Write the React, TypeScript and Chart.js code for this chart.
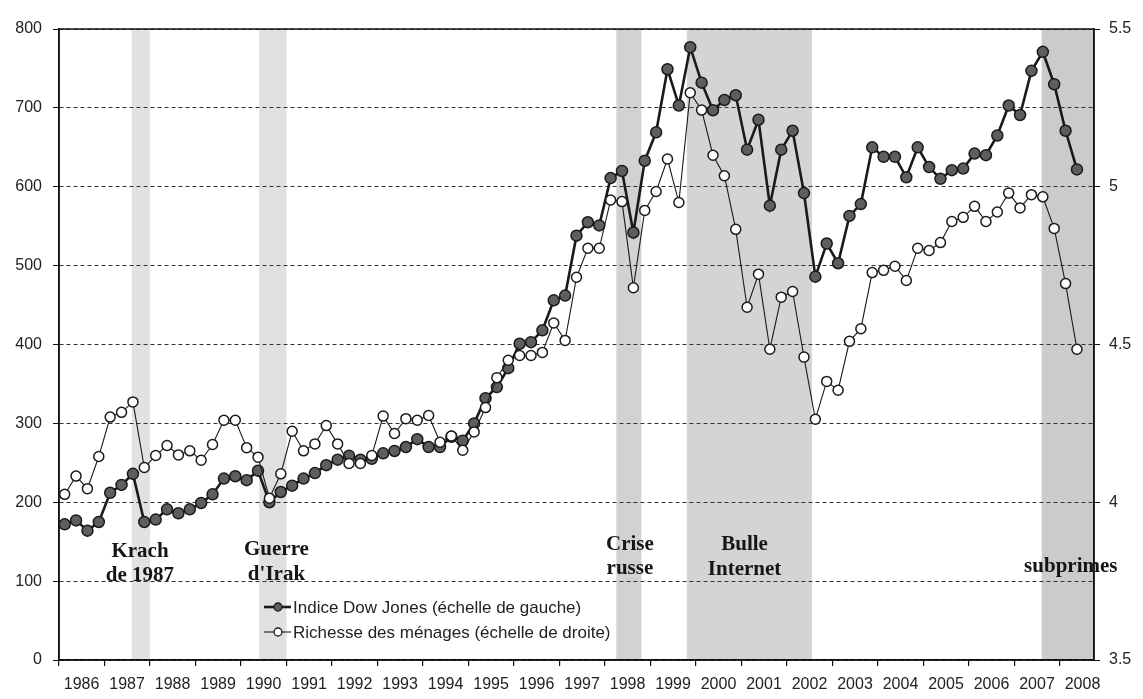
import React, { useEffect, useRef } from 'react';
import { Chart, registerables } from 'chart.js';

Chart.register(...registerables);

// ---------- DATA ----------
const years = [1986, 1987, 1988, 1989, 1990, 1991, 1992, 1993, 1994, 1995, 1996, 1997, 1998, 1999, 2000, 2001, 2002, 2003, 2004, 2005, 2006, 2007, 2008];
const quartersPerYear = [1, 2, 3, 4];

// Indice Dow Jones (left scale), quarterly 1986Q1 .. 2008Q2
const dowJones = [
  172, 177, 164, 175,
  212, 222, 236, 175,
  178, 191, 186, 191,
  199, 210, 230, 233,
  228, 240, 200, 213,
  221, 230, 237, 247,
  254, 259, 254, 255,
  262, 265, 270, 280,
  270, 270, 283, 278,
  300, 332, 346, 370,
  401, 403, 418, 456,
  462, 538, 555, 551,
  611, 620, 542, 633,
  669, 749, 703, 777,
  732, 697, 710, 716,
  647, 685, 576, 647,
  671, 592, 486, 528,
  503, 563, 578, 650,
  638, 638, 612, 650,
  625, 610, 621, 623,
  642, 640, 665, 703,
  691, 747, 771, 730,
  671, 622,
];

// Richesse des ménages (right scale), quarterly 1986Q1 .. 2008Q2
const richesse = [
  4.025, 4.083, 4.043, 4.145,
  4.27, 4.285, 4.318, 4.11,
  4.148, 4.18, 4.15, 4.163,
  4.133, 4.183, 4.26, 4.26,
  4.173, 4.143, 4.013, 4.09,
  4.225, 4.163, 4.185, 4.243,
  4.185, 4.123, 4.123, 4.148,
  4.273, 4.218, 4.265, 4.26,
  4.275, 4.19, 4.21, 4.165,
  4.223, 4.3, 4.395, 4.45,
  4.465, 4.465, 4.475, 4.568,
  4.513, 4.713, 4.805, 4.805,
  4.958, 4.953, 4.68, 4.925,
  4.985, 5.088, 4.95, 5.298,
  5.243, 5.1, 5.035, 4.865,
  4.618, 4.723, 4.485, 4.65,
  4.668, 4.46, 4.263, 4.383,
  4.355, 4.51, 4.55, 4.728,
  4.735, 4.748, 4.703, 4.805,
  4.798, 4.823, 4.89, 4.903,
  4.938, 4.89, 4.92, 4.98,
  4.933, 4.975, 4.968, 4.868,
  4.693, 4.485,
];

const leftTicks = [0, 100, 200, 300, 400, 500, 600, 700, 800];
const rightTicks = [3.5, 4, 4.5, 5, 5.5];

// crisis periods (in years)
const crisisNames = [['Krach', 'de 1987'], ['Guerre', "d'Irak"], ['Crise', 'russe'], ['Bulle', 'Internet'], ['subprimes']];
const crisisStart = [1987.6, 1990.4, 1998.25, 1999.8, 2007.6];
const crisisEnd = [1988.0, 1991.0, 1998.8, 2002.55, 2008.75];

const seriesNames = ['Indice Dow Jones (échelle de gauche)', 'Richesse des ménages (échelle de droite)'];

// ---------- STYLE ----------
const bandColors = ['#e2e2e2', '#e0e0e0', '#d2d2d2', '#d4d4d4', '#cbcbcb'];
const labelCenterX = [1987.78, 1990.78, 1998.55, 2001.07, 2008.24];
const labelRowsY = [[552, 576], [550, 575], [545, 569], [545, 570], [567]];

const quarterPoints = (values: number[]) => {
  const pts: { x: number; y: number }[] = [];
  let i = 0;
  for (const y of years) {
    for (const q of quartersPerYear) {
      if (i < values.length) pts.push({ x: y + (q - 1) / 4 + 0.125, y: values[i] });
      i++;
    }
  }
  return pts;
};

const bandsPlugin = {
  id: 'bands',
  beforeDraw(chart: any) {
    const { ctx, chartArea: a, scales } = chart;
    const x = scales.x;
    ctx.save();
    crisisStart.forEach((s, k) => {
      const x0 = Math.max(x.getPixelForValue(s), a.left);
      const x1 = Math.min(x.getPixelForValue(crisisEnd[k]), a.right);
      ctx.fillStyle = bandColors[k];
      ctx.fillRect(x0, a.top, x1 - x0, a.bottom - a.top);
    });
    ctx.restore();
  },
};

const framePlugin = {
  id: 'frame',
  beforeDatasetsDraw(chart: any) {
    const { ctx, chartArea: a } = chart;
    ctx.save();
    ctx.strokeStyle = '#111';
    ctx.lineWidth = 1.5;
    ctx.setLineDash([]);
    ctx.strokeRect(a.left, a.top, a.right - a.left, a.bottom - a.top);
    ctx.restore();
  },
};

const labelsPlugin = {
  id: 'crisisLabels',
  afterDraw(chart: any) {
    const { ctx, scales } = chart;
    const x = scales.x;
    ctx.save();
    ctx.font = 'bold 21px "Liberation Serif", "DejaVu Serif", serif';
    ctx.fillStyle = '#151515';
    ctx.textAlign = 'center';
    ctx.textBaseline = 'middle';
    crisisNames.forEach((lines, k) => {
      const px = x.getPixelForValue(labelCenterX[k]);
      lines.forEach((t, r) => ctx.fillText(t, px, labelRowsY[k][r]));
    });

    // legend
    const ds = chart.data.datasets;
    const rowsY = [607, 632];
    ctx.font = '17px "Liberation Sans", Arial, sans-serif';
    ctx.textAlign = 'left';
    ctx.fillStyle = '#222';
    seriesNames.forEach((name, k) => {
      const d = ds[k];
      const y = rowsY[k];
      ctx.beginPath();
      ctx.strokeStyle = d.borderColor;
      ctx.lineWidth = d.borderWidth;
      ctx.moveTo(264, y);
      ctx.lineTo(291, y);
      ctx.stroke();
      ctx.beginPath();
      ctx.arc(278, y, 4, 0, Math.PI * 2);
      ctx.fillStyle = d.pointBackgroundColor;
      ctx.fill();
      ctx.lineWidth = 1.3;
      ctx.strokeStyle = d.pointBorderColor;
      ctx.stroke();
      ctx.fillStyle = '#222';
      ctx.fillText(name, 293, y + 1);
    });
    ctx.restore();
  },
};

export default function App() {
  const ref = useRef<HTMLCanvasElement | null>(null);

  useEffect(() => {
    document.body.style.margin = '0';
    const canvas = ref.current;
    if (!canvas) return;
    const tickFont = { family: '"Liberation Sans", Arial, sans-serif', size: 16 };
    const chart = new Chart(canvas, {
      type: 'line',
      data: {
        datasets: [
          {
            label: seriesNames[0],
            data: quarterPoints(dowJones),
            yAxisID: 'y',
            borderColor: '#1a1a1a',
            borderWidth: 2.6,
            pointRadius: 5.5,
            pointBackgroundColor: '#5e5e5e',
            pointBorderColor: '#1a1a1a',
            pointBorderWidth: 1.5,
            tension: 0,
            order: 1,
          },
          {
            label: seriesNames[1],
            data: quarterPoints(richesse),
            yAxisID: 'y2',
            borderColor: '#1a1a1a',
            borderWidth: 1.1,
            pointRadius: 5,
            pointBackgroundColor: '#ffffff',
            pointBorderColor: '#1a1a1a',
            pointBorderWidth: 1.5,
            tension: 0,
            order: 0,
          },
        ],
      },
      options: {
        animation: false,
        responsive: false,
        maintainAspectRatio: false,
        layout: { padding: { top: 29, left: 0, right: 0, bottom: 0 } },
        plugins: { legend: { display: false }, tooltip: { enabled: false } },
        scales: {
          x: {
            type: 'linear',
            position: 'bottom',
            min: 1986,
            max: 2008.75,
            afterBuildTicks: (s: any) => {
              s.ticks = years.map((v) => ({ value: v }));
            },
            afterFit: (s: any) => {
              s.height = 39;
            },
            ticks: {
              autoSkip: false,
              maxRotation: 0,
              minRotation: 0,
              labelOffset: 22.6,
              padding: 9,
              color: '#222',
              font: tickFont,
              callback: (v: any) => String(v),
            },
            grid: { drawOnChartArea: false, drawTicks: true, tickLength: 6, color: '#111', lineWidth: 1.2 },
            border: { display: true, color: '#111', width: 1.5 },
          },
          y: {
            position: 'left',
            min: 0,
            max: 800,
            afterBuildTicks: (s: any) => {
              s.ticks = leftTicks.map((v) => ({ value: v }));
            },
            afterFit: (s: any) => {
              s.width = 59;
            },
            ticks: { padding: 11, color: '#222', font: tickFont },
            grid: { color: '#333', lineWidth: 1, drawTicks: true, tickLength: 6, tickColor: '#111' },
            border: { display: true, color: '#111', width: 1.5, dash: [4, 3] },
          },
          y2: {
            position: 'right',
            min: 3.5,
            max: 5.5,
            afterBuildTicks: (s: any) => {
              s.ticks = rightTicks.map((v) => ({ value: v }));
            },
            afterFit: (s: any) => {
              s.width = 49;
            },
            ticks: { padding: 9, color: '#222', font: tickFont, callback: (v: any) => String(v) },
            grid: { drawOnChartArea: false, drawTicks: true, tickLength: 6, color: '#111' },
            border: { display: true, color: '#111', width: 1.5 },
          },
        },
      },
      plugins: [bandsPlugin, framePlugin, labelsPlugin],
    } as any);
    return () => chart.destroy();
  }, []);

  return <canvas ref={ref} width={1143} height={699} style={{ display: 'block' }} />;
}
